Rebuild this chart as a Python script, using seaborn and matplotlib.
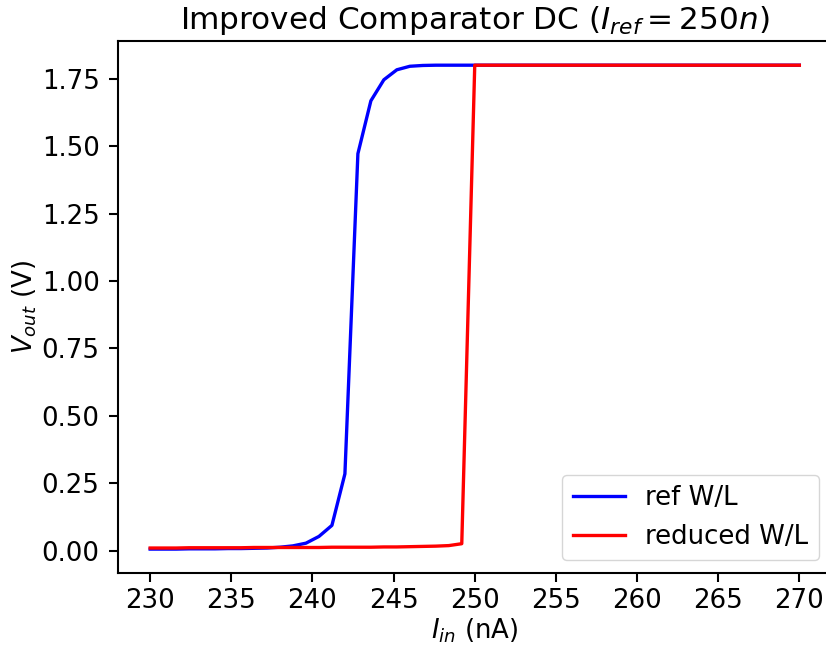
import numpy as np
import pandas as pd
import matplotlib
matplotlib.use("Agg")
import matplotlib.pyplot as plt
import seaborn as sns

# DC sweep of the input current (nA), 0.8 nA steps
i_in = np.linspace(230, 270, 51)

# Output voltage (V) for the reference W/L comparator
v_ref = [0.006, 0.006, 0.006, 0.007, 0.007, 0.007, 0.008, 0.008, 0.009, 0.010,
         0.013, 0.018, 0.028, 0.053, 0.094, 0.285, 1.472, 1.668, 1.746, 1.783,
         1.796, 1.799] + [1.800] * 29

# Output voltage (V) for the reduced W/L comparator
v_red = [0.010, 0.010, 0.010, 0.011, 0.011, 0.011, 0.011, 0.011, 0.012, 0.012,
         0.012, 0.012, 0.012, 0.012, 0.013, 0.013, 0.013, 0.013, 0.014, 0.014,
         0.015, 0.016, 0.017, 0.019, 0.026] + [1.800] * 26

df = pd.DataFrame({"I_in": i_in, "ref": v_ref, "reduced": v_red})

S = 1.87  # overall scale of fonts and strokes
plt.rcParams.update({
    "font.family": ["DejaVu Sans"],
    "font.size": 10 * S,
    "axes.linewidth": 0.8 * S,
    "xtick.major.size": 3.5 * S,
    "ytick.major.size": 3.5 * S,
    "xtick.major.width": 0.8 * S,
    "ytick.major.width": 0.8 * S,
    "xtick.major.pad": 4.0,
    "ytick.major.pad": 3.5 * S,
    "legend.fontsize": 10 * S,
})

fig = plt.figure(figsize=(8.26, 6.5), dpi=100)
ax = fig.add_axes([117.7 / 826, 1 - 573.3 / 650,
                   (831.8 - 117.7) / 826, (573.3 - 41) / 650])

sns.lineplot(data=df, x="I_in", y="ref", ax=ax, color="blue",
             linewidth=2.4, label="ref W/L")
sns.lineplot(data=df, x="I_in", y="reduced", ax=ax, color="red",
             linewidth=2.4, label="reduced W/L")

ax.set_xlim(228, 272)
ax.set_xticks(np.arange(230, 271, 5))
ax.set_yticks(np.arange(0, 1.76, 0.25))
ax.yaxis.set_major_formatter(matplotlib.ticker.FormatStrFormatter("%.2f"))

ax.set_xlabel(r"$I_{in}$ (nA)", labelpad=2)
ax.set_ylabel(r"$V_{out}$ (V)", labelpad=2)
ax.set_title(r"Improved Comparator DC ($I_{ref} = 250n$)", fontsize=12 * S,
             pad=8.5)

ax.legend(loc="lower right")

fig.savefig("out.png", dpi=100)
